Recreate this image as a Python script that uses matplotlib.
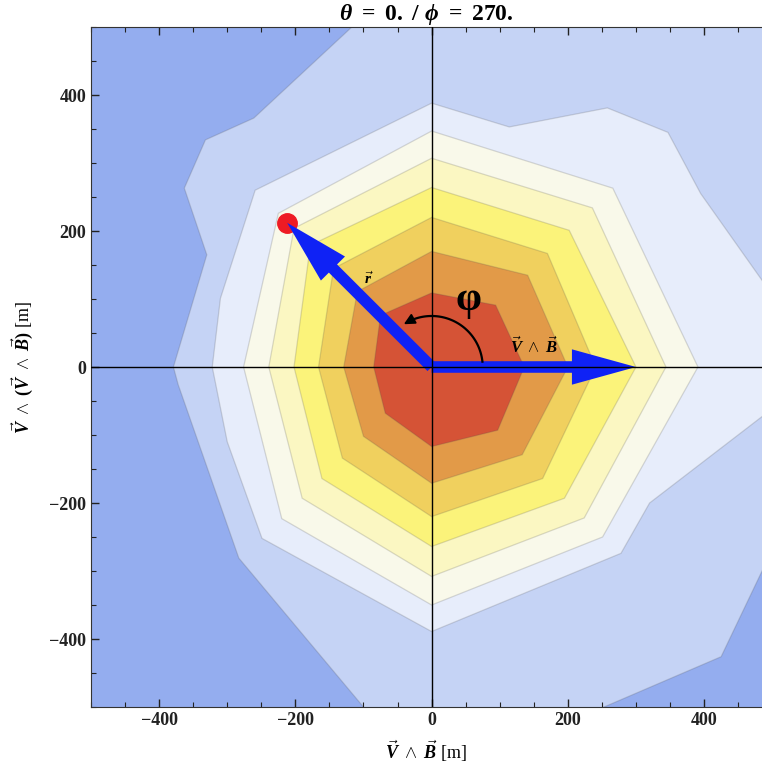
import matplotlib
matplotlib.use("Agg")
import matplotlib.pyplot as plt
import numpy as np
from matplotlib.ticker import MultipleLocator

plt.rcParams['font.family'] = ['Liberation Serif', 'DejaVu Serif']
plt.rcParams['font.weight'] = 'bold'
plt.rcParams['mathtext.fontset'] = 'custom'
plt.rcParams['mathtext.rm'] = 'Liberation Serif:bold'
plt.rcParams['mathtext.it'] = 'Liberation Serif:italic:bold'
plt.rcParams['mathtext.bf'] = 'Liberation Serif:bold'
plt.rcParams['axes.unicode_minus'] = True

# contour bands, outermost first: boundary vertices (x, y) in metres
band_light_blue = [(-95, 520), (-117, 500), (-261, 366), (-332, 334), (-363, 263), (-330, 165),
                   (-379, 0), (-372, -26), (-283, -281), (-100, -500), (-83, -520), (206, -520),
                   (253, -500), (425, -426), (487, -296), (520, -227), (520, 520)]
band_pale_blue = [(0, 388), (114, 353), (258, 381), (347, 345), (395, 255), (520, 78), (520, -46),
                  (320, -200), (278, -274), (0, -389), (-249, -252), (-300, -110), (-322, 0),
                  (-310, 101), (-259, 260)]
band_off_white = [(0, 347), (266, 263), (391, 0), (251, -250), (0, -350), (-220, -223), (-276, 0), (-225, 226)]
band_cream = [(0, 307), (236, 234), (344, 0), (224, -222), (0, -308), (-190, -193), (-239, 0), (-202, 204)]
band_yellow = [(0, 264), (202, 201), (300, 0), (195, -193), (0, -264), (-161, -164), (-202, 0), (-178, 179)]
band_gold = [(0, 220), (170, 167), (241, 0), (163, -164), (0, -220), (-131, -134), (-166, 0), (-144, 145)]
band_orange = [(0, 170), (141, 135), (200, 0), (133, -129), (0, -171), (-100, -102), (-129, 0), (-109, 111)]
band_red = [(0, 109), (94, 91), (136, 0), (97, -93), (0, -117), (-68, -68), (-85, 0), (-75, 76)]

bands = [band_light_blue, band_pale_blue, band_off_white, band_cream,
         band_yellow, band_gold, band_orange, band_red]
band_colors = ['#C5D3F5', '#E7EDFB', '#F9F9EA', '#FBF7C2', '#FBF37A', '#F0D05E', '#E29A48', '#D55336']
background_color = '#94ADEF'

# shower axis vectors
vxb_tip = (300, 0)
r_tip = (-212, 212)
phi_arc_radius = 75
phi_arc_deg = (6, 123)

fig = plt.figure(figsize=(7.62, 7.69), dpi=100)
ax = fig.add_axes([91 / 762, 62 / 769, 671 / 762, 680 / 769])
ax.set_facecolor(background_color)

for band, color in zip(bands, band_colors):
    xs, ys = zip(*band)
    ax.fill(xs, ys, facecolor=color, edgecolor=(0.3, 0.3, 0.3, 0.2), lw=0.9, zorder=1)

ax.plot(*r_tip, 'o', ms=14, color='#EE1B24', zorder=3)
blue = '#0F22F5'
ax.arrow(0, 0, vxb_tip[0], vxb_tip[1], width=17, head_width=52, head_length=94,
         length_includes_head=True, color=blue, lw=0, zorder=4)
ax.arrow(0, 0, r_tip[0], r_tip[1], width=17, head_width=50, head_length=95,
         length_includes_head=True, color=blue, lw=0, zorder=4)

ax.axhline(0, color='black', lw=1.0, zorder=5)
ax.axvline(0, color='black', lw=1.0, zorder=5)

t = np.radians(np.linspace(phi_arc_deg[0], phi_arc_deg[1] - 6, 60))
ax.plot(phi_arc_radius * np.cos(t), phi_arc_radius * np.sin(t), color='black', lw=1.6, zorder=6)
t_end = np.radians(phi_arc_deg[1])
t_pre = np.radians(phi_arc_deg[1] - 8)
ax.annotate('', xy=(phi_arc_radius * np.cos(t_end), phi_arc_radius * np.sin(t_end)),
            xytext=(phi_arc_radius * np.cos(t_pre), phi_arc_radius * np.sin(t_pre)),
            arrowprops=dict(arrowstyle='-|>', color='black', lw=1.4, mutation_scale=16,
                            shrinkA=0, shrinkB=0), zorder=6)

ax.text(54, 98, 'φ', fontsize=30, fontweight='bold', ha='center', va='center', zorder=6)
ax.text(150, 30, r'$\vec{V}\ \wedge\ \vec{B}$', fontsize=12, ha='center', va='center', zorder=6)
ax.text(-92, 130, r'$\vec{r}$', fontsize=11, ha='center', va='center', zorder=6)

ax.set_xlim(-500, 485)
ax.set_ylim(-500, 500)
ax.xaxis.set_major_locator(MultipleLocator(200))
ax.yaxis.set_major_locator(MultipleLocator(200))
ax.xaxis.set_minor_locator(MultipleLocator(50))
ax.yaxis.set_minor_locator(MultipleLocator(50))
ax.tick_params(which='both', direction='in', top=True, right=False, labelsize=13, colors='#222222')
ax.tick_params(which='major', length=6, width=1.0)
ax.tick_params(which='minor', length=3.5, width=0.8)
for lab in ax.get_xticklabels() + ax.get_yticklabels():
    lab.set_fontweight('bold')
for side in ['left', 'bottom', 'top']:
    ax.spines[side].set_color('#333333')
ax.spines['right'].set_visible(False)

ax.set_title(r'$\theta\ =\ 0.\ /\ \phi\ =\ 270.$', fontsize=17, pad=3)
ax.set_xlabel(r'$\vec{V}\ \wedge\ \vec{B}$ [m]', fontsize=13, labelpad=7)
ax.set_ylabel(r'$\vec{V}\ \wedge\ (\vec{V}\ \wedge\ \vec{B})$ [m]', fontsize=13, labelpad=10)

fig.savefig('out.png', dpi=100)
